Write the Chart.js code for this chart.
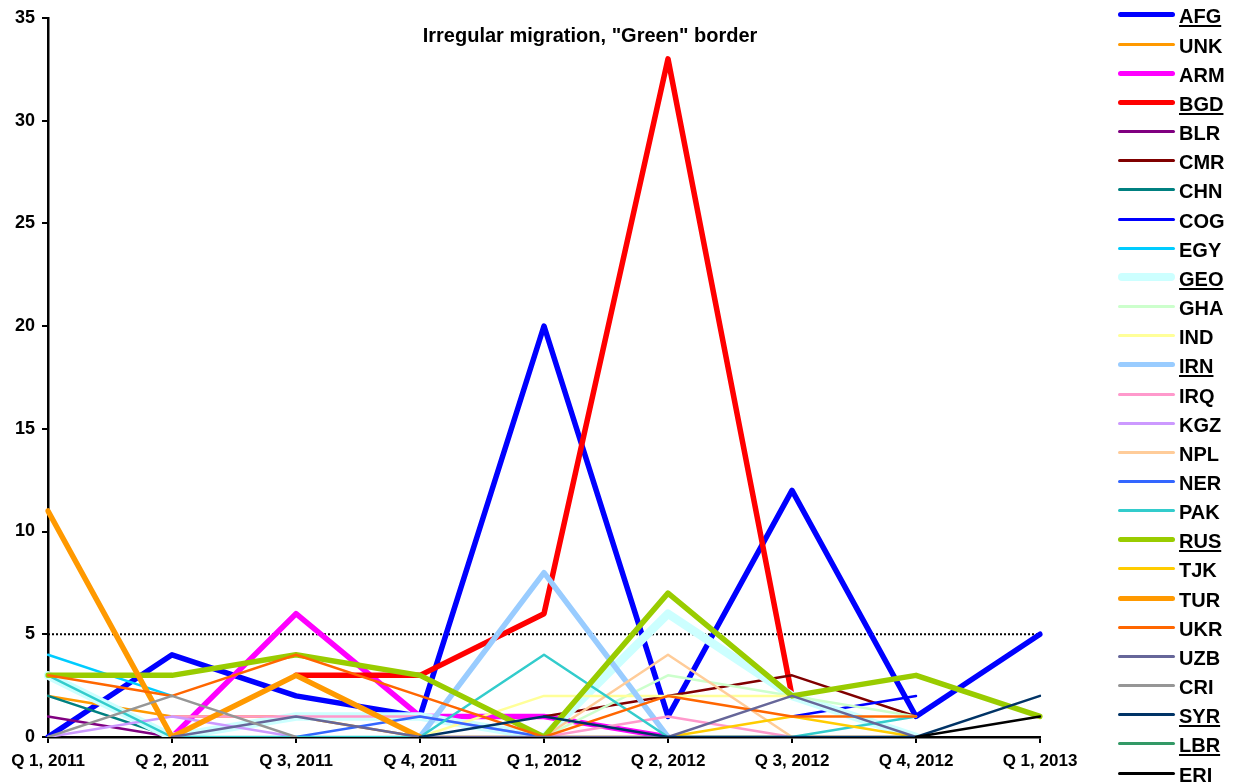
<!DOCTYPE html>
<html>
<head>
<meta charset="utf-8">
<script src="https://cdn.jsdelivr.net/npm/chart.js@4.4.1/dist/chart.umd.min.js"></script>
<style>
  html, body { margin: 0; padding: 0; background: #fff; }
  #wrap { position: relative; width: 1237px; height: 783px; overflow: hidden; }
  #chart { position: absolute; left: 0; top: 0; }
  #title { position: absolute; left: 390px; width: 400px; top: 25px; text-align: center;
           font: bold 20px "Liberation Sans", Arial, sans-serif; line-height: 20px; color: #000; white-space: nowrap; }
  #legend { position: absolute; left: 1118px; top: 0.4px; }
  .row { display: flex; align-items: center; height: 29.17px; }
  .sw { width: 57px; margin-right: 4px; }
  .lab { font: bold 20px "Liberation Sans", Arial, sans-serif; line-height: 20px; color: #000; position: relative; top: 1.5px; }
  .u { text-decoration: underline; text-decoration-thickness: 2px; text-underline-offset: 2px; }
</style>
</head>
<body>
<div id="wrap">
  <canvas id="chart" width="1237" height="783"></canvas>
  <div id="title">Irregular migration, "Green" border</div>
  <div id="legend"></div>
</div>
<script>
// ---------- data ----------
const quarters = ["Q 1, 2011","Q 2, 2011","Q 3, 2011","Q 4, 2011","Q 1, 2012","Q 2, 2012","Q 3, 2012","Q 4, 2012","Q 1, 2013"];
const yTickValues = [0, 5, 10, 15, 20, 25, 30, 35];

const AFG = [0, 4, 2, 1, 20, 1, 12, 1, 5];
const UNK = [2, 1, 1, 0, 0, 0, 0, 0, null];
const ARM = [null, 0, 6, 1, 1, 0, null, null, null];
const BGD = [null, null, 3, 3, 6, 33, 2, null, null];
const BLR = [1, 0, null, null, null, null, null, null, null];
const CMR = [null, null, null, null, 1, 2, 3, 1, null];
const CHN = [2, 0, null, null, null, null, null, null, null];
const COG = [null, null, null, null, null, null, 1, 2, null];
const EGY = [4, 2, null, null, null, null, null, null, null];
const GEO = [3, 0, 1, 1, 0, 6, 2, 0, null];
const GHA = [null, null, null, null, 0, 3, 2, 1, null];
const IND = [null, null, null, 0, 2, 2, 2, null, null];
const IRN = [null, null, null, 0, 8, 0, null, null, null];
const IRQ = [null, 1, 1, 1, 0, 1, 0, null, null];
const KGZ = [0, 1, 0, null, null, null, null, null, null];
const NPL = [null, null, null, null, 0, 4, 0, null, null];
const NER = [null, null, 0, 1, 0, null, null, null, null];
const PAK = [3, 0, 0, 0, 4, 0, 0, 1, null];
const RUS = [3, 3, 4, 3, 0, 7, 2, 3, 1];
const TJK = [null, null, null, null, null, 0, 1, 0, null];
const TUR = [11, 0, 3, 0, null, null, null, null, null];
const UKR = [3, 2, 4, 2, 0, 2, 1, 1, null];
const UZB = [null, 0, 1, 0, 0, 0, 2, 0, null];
const CRI = [0, 2, 0, null, null, null, null, null, null];
const SYR = [null, null, null, 0, 1, 0, 0, 0, 2];
const LBR = [null, null, null, null, null, null, null, null, null];
const ERI = [null, null, null, null, null, null, null, 0, 1];
const THRESHOLD = [5, 5, 5, 5, 5, 5, 5, 5, 5];

const seriesNames = ["AFG","UNK","ARM","BGD","BLR","CMR","CHN","COG","EGY","GEO","GHA","IND","IRN","IRQ","KGZ","NPL","NER","PAK","RUS","TJK","TUR","UKR","UZB","CRI","SYR","LBR","ERI"];
const seriesValues = [AFG,UNK,ARM,BGD,BLR,CMR,CHN,COG,EGY,GEO,GHA,IND,IRN,IRQ,KGZ,NPL,NER,PAK,RUS,TJK,TUR,UKR,UZB,CRI,SYR,LBR,ERI];
const underlinedNames = ["AFG","BGD","GEO","IRN","RUS","SYR","LBR"];

// ---------- styles ----------
const seriesColors = ["#0000FF","#FF9900","#FF00FF","#FF0000","#800080","#800000","#008080","#0000FF","#00CCFF","#CCFFFF",
                      "#CCFFCC","#FFFF99","#99CCFF","#FF99CC","#CC99FF","#FFCC99","#3366FF","#33CCCC","#99CC00","#FFCC00",
                      "#FF9900","#FF6600","#666699","#969696","#003366","#339966","#000000"];
const THIN = 2.5, THICK = 5.5;
const seriesWidths = [THICK,THIN,THICK,THICK,THIN,THIN,THIN,THIN,THIN,8.5,
                      THIN,THIN,THICK,THIN,THIN,THIN,THIN,THIN,THICK,THIN,
                      THICK,THIN,THIN,THIN,THIN,THIN,THIN];

const FONT = '"Liberation Sans", Arial, sans-serif';

const datasets = seriesNames.map((name, i) => ({
  label: name,
  data: seriesValues[i],
  borderColor: seriesColors[i],
  backgroundColor: seriesColors[i],
  borderWidth: seriesWidths[i],
  pointRadius: 0,
  pointHoverRadius: 0,
  tension: 0,
  fill: false,
  spanGaps: false,
  borderJoinStyle: 'round',
  borderCapStyle: 'round',
  order: -i
}));
datasets.push({
  label: "threshold",
  data: THRESHOLD,
  borderColor: "#000000",
  borderWidth: 2,
  borderDash: [2, 2],
  pointRadius: 0,
  tension: 0,
  fill: false,
  order: 1
});

const chart = new Chart(document.getElementById('chart'), {
  type: 'line',
  data: { labels: quarters, datasets },
  options: {
    responsive: false,
    animation: false,
    events: [],
    layout: { padding: { top: 17, right: 197, left: 0, bottom: 0 } },
    plugins: { legend: { display: false }, title: { display: false }, tooltip: { enabled: false } },
    scales: {
      x: {
        type: 'category',
        offset: false,
        grid: { display: true, drawOnChartArea: false, drawTicks: true, tickLength: 6, color: '#000', lineWidth: 2 },
        border: { display: true, color: '#000', width: 2.5 },
        ticks: { color: '#000', font: { family: FONT, size: 17, weight: 'bold' }, padding: 8, maxRotation: 0, autoSkip: false },
        afterFit: s => { s.height = 46; }
      },
      y: {
        min: 0, max: 35,
        afterBuildTicks: s => { s.ticks = yTickValues.map(v => ({ value: v })); },
        grid: { display: true, drawOnChartArea: false, drawTicks: true, tickLength: 6, color: '#000', lineWidth: 2 },
        border: { display: true, color: '#000', width: 2.5 },
        ticks: { color: '#000', font: { family: FONT, size: 18, weight: 'bold' }, padding: 7 },
        afterFit: s => { s.width = 48; }
      }
    }
  }
});

// ---------- HTML legend built from the chart's datasets ----------
const legend = document.getElementById('legend');
chart.data.datasets.slice(0, seriesNames.length).forEach(ds => {
  const row = document.createElement('div');
  row.className = 'row';
  const sw = document.createElement('div');
  sw.className = 'sw';
  const h = ds.borderWidth < 3 ? 3 : Math.floor(ds.borderWidth);
  sw.style.height = h + 'px';
  sw.style.background = ds.borderColor;
  sw.style.borderRadius = (h / 2) + 'px';
  const lab = document.createElement('span');
  lab.className = 'lab' + (underlinedNames.includes(ds.label) ? ' u' : '');
  lab.textContent = ds.label;
  row.appendChild(sw);
  row.appendChild(lab);
  legend.appendChild(row);
});
</script>
</body>
</html>
